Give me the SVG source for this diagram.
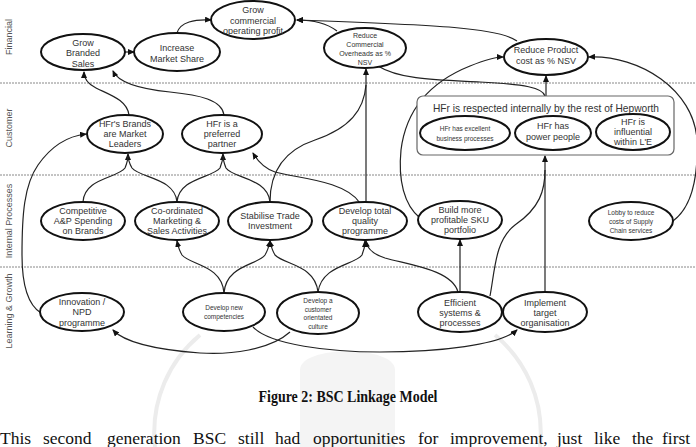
<svg xmlns="http://www.w3.org/2000/svg" width="696" height="447" viewBox="0 0 696 447">
<style>
.node ellipse{fill:#fff;stroke:#111;stroke-width:2}
.t{font-family:"Liberation Sans","DejaVu Sans",sans-serif;font-size:9px;fill:#333;text-anchor:middle}
.s{font-size:6.5px}
.lane{font-family:"Liberation Sans","DejaVu Sans",sans-serif;font-size:9px;fill:#555;text-anchor:middle}
.sep{stroke:#888;stroke-width:1;stroke-dasharray:2,1}
.c path{fill:none;stroke:#222;stroke-width:1.2}
.wm{fill:none;stroke:#ececec;stroke-width:4}
.p{font-family:"Liberation Serif","Times New Roman",serif;font-size:17.5px;fill:#111}
</style>
<defs>
<marker id="ah" markerUnits="userSpaceOnUse" markerWidth="7" markerHeight="6" refX="6" refY="3" orient="auto">
<path d="M0,0 L7,3 L0,6 z" fill="#111"/>
</marker>
</defs>
<rect width="696" height="447" fill="#fff"/>
<!-- watermark -->
<g id="watermark">
<path class="wm" d="M155,447 C150,400 170,360 200,335"/>
<path class="wm" d="M540,447 C545,400 525,360 495,335"/>
<path d="M300,447 L300,370 C300,345 395,345 395,370 L395,447 Z" fill="#f4f4f4"/>
</g>
<!-- lanes -->
<g id="lanes">
<line class="sep" x1="0" y1="83" x2="696" y2="83"/>
<line class="sep" x1="0" y1="175" x2="696" y2="175"/>
<line class="sep" x1="0" y1="267" x2="696" y2="267"/>
<text class="lane" transform="translate(12,37) rotate(-90)">Financial</text>
<text class="lane" transform="translate(12,128) rotate(-90)">Customer</text>
<text class="lane" transform="translate(12,221) rotate(-90)">Internal Processes</text>
<text class="lane" transform="translate(12,311) rotate(-90)">Learning &amp; Growth</text>
</g>
<!-- connectors -->
<g id="connectors" class="c">
<path d="M125,52 L134,52" marker-end="url(#ah)"/>
<path d="M177,33 C180,22 195,19 211,20" marker-end="url(#ah)"/>
<path d="M337,31 C325,22 310,20 297,20" marker-end="url(#ah)"/>
<path d="M517,41 C500,28 440,25 297,20" marker-end="url(#ah)"/>
<path d="M378,66 C400,80 440,80 480,82 C525,84 543,88 545,96"/>
<path d="M546,96 L546,76" marker-end="url(#ah)"/>
<path d="M366,202 L366,69" marker-end="url(#ah)"/>
<path d="M270,202 C270,170 285,150 315,140 C350,128 364,110 366,85"/>
<path d="M420,218 C404,205 398,180 401,150 C406,110 430,82 470,66 C485,60 495,57 503,57" marker-end="url(#ah)"/>
<path d="M673,221 C695,205 698,170 697,140 C694,90 640,55 589,57" marker-end="url(#ah)"/>
<path d="M545,292 L545,156" marker-end="url(#ah)"/>
<path d="M490,296 C495,270 495,240 515,225 C540,208 545,190 545,170"/>
<path d="M460,292 L460,240" marker-end="url(#ah)"/>
<path d="M458,292 C452,270 410,265 385,258 C372,254 367,248 366,241" marker-end="url(#ah)"/>
<path d="M318,292 C315,265 285,265 275,255 C272,250 271,246 270,241" marker-end="url(#ah)"/>
<path d="M318,292 C322,265 355,265 362,255 C364,250 365,246 365,241" marker-end="url(#ah)"/>
<path d="M224,293 C222,265 190,265 182,255 C179,250 178,246 177,241" marker-end="url(#ah)"/>
<path d="M224,293 C226,265 258,265 265,255 C268,250 269,246 270,241" marker-end="url(#ah)"/>
<path d="M177,202 C175,178 140,178 132,168 C129,163 128,158 128,154" marker-end="url(#ah)"/>
<path d="M177,202 C179,178 212,178 220,168 C222,163 223,158 223,154" marker-end="url(#ah)"/>
<path d="M83,202 C84,178 118,178 125,168 C127,163 128,160 128,156"/>
<path d="M270,202 C268,178 232,178 226,168 C224,163 223,160 223,156"/>
<path d="M360,203 C345,180 295,178 275,172 C263,168 257,160 253,153" marker-end="url(#ah)"/>
<path d="M129,115 C127,100 110,95 96,88 C88,84 84,78 84,72" marker-end="url(#ah)"/>
<path d="M224,115 C222,100 200,95 170,92 C140,89 118,82 113,71" marker-end="url(#ah)"/>
<path d="M41,313 C28,305 22,285 22,255 C22,215 24,185 38,165 C52,145 68,136 86,134" marker-end="url(#ah)"/>
<path d="M290,332 C270,350 230,355 200,353 C160,350 125,343 113,330" marker-end="url(#ah)"/>
<path d="M253,327 C270,345 330,352 380,352 C440,352 500,345 517,330" marker-end="url(#ah)"/>
</g>
<!-- Financial -->
<g id="gbs" class="node"><ellipse cx="83" cy="52" rx="42" ry="18"/>
<text class="t" x="83" y="46">Grow</text><text class="t" x="83" y="56">Branded</text><text class="t" x="83" y="67">Sales</text></g>
<g id="ims" class="node"><ellipse cx="177" cy="52" rx="43" ry="19"/>
<text class="t" x="177" y="51">Increase</text><text class="t" x="177" y="62">Market Share</text></g>
<g id="gcop" class="node"><ellipse cx="253" cy="20" rx="42" ry="19"/>
<text class="t" x="253" y="13">Grow</text><text class="t" x="253" y="24">commercial</text><text class="t" x="253" y="34">operating profit</text></g>
<g id="rco" class="node"><ellipse cx="365" cy="48" rx="41" ry="20"/>
<text class="t" style="font-size:7px" x="365" y="37.5">Reduce</text><text class="t" style="font-size:7px" x="365" y="46.5">Commercial</text><text class="t" style="font-size:7px" x="365" y="55.5">Overheads as %</text><text class="t" style="font-size:7px" x="365" y="64.5">NSV</text></g>
<g id="rpc" class="node"><ellipse cx="546" cy="57" rx="42" ry="18"/>
<text class="t" x="546" y="53">Reduce Product</text><text class="t" x="546" y="64">cost as % NSV</text></g>
<!-- Customer -->
<g id="hbml" class="node"><ellipse cx="125" cy="134" rx="38" ry="19"/>
<text class="t" x="125" y="127">HFr's Brands</text><text class="t" x="125" y="137">are Market</text><text class="t" x="125" y="147">Leaders</text></g>
<g id="hpp" class="node"><ellipse cx="222" cy="134" rx="40" ry="19"/>
<text class="t" x="222" y="127">HFr is a</text><text class="t" x="222" y="137">preferred</text><text class="t" x="222" y="147">partner</text></g>
<g id="hresp">
<rect x="417" y="96" width="257" height="59" rx="6" fill="#fff" stroke="#666" stroke-width="1.2"/>
<text class="t" style="font-size:10.5px" x="546" y="112" textLength="226" lengthAdjust="spacingAndGlyphs">HFr is respected internally by the rest of Hepworth</text>
</g>
<g id="hebp" class="node"><ellipse cx="465" cy="133" rx="45" ry="17"/>
<text class="t s" x="465" y="130.5">HFr has excellent</text><text class="t s" x="465" y="140.5">business processes</text></g>
<g id="hpow" class="node"><ellipse cx="553" cy="133" rx="38" ry="17"/>
<text class="t" x="553" y="129">HFr has</text><text class="t" x="553" y="140">power people</text></g>
<g id="hinf" class="node"><ellipse cx="633" cy="132" rx="37" ry="18"/>
<text class="t" x="633" y="125">HFr is</text><text class="t" x="633" y="135">influential</text><text class="t" x="633" y="145">within L'E</text></g>
<!-- Internal -->
<g id="cap" class="node"><ellipse cx="83" cy="221" rx="42" ry="19"/>
<text class="t" x="83" y="214">Competitive</text><text class="t" x="83" y="224">A&amp;P Spending</text><text class="t" x="83" y="234">on Brands</text></g>
<g id="cms" class="node"><ellipse cx="177" cy="221" rx="42" ry="19"/>
<text class="t" x="177" y="214">Co-ordinated</text><text class="t" x="177" y="224">Marketing &amp;</text><text class="t" x="177" y="234">Sales Activities</text></g>
<g id="sti" class="node"><ellipse cx="270" cy="221" rx="42" ry="19"/>
<text class="t" x="270" y="219">Stabilise Trade</text><text class="t" x="270" y="229">Investment</text></g>
<g id="dtq" class="node"><ellipse cx="365" cy="221" rx="42" ry="19"/>
<text class="t" x="365" y="214">Develop total</text><text class="t" x="365" y="224">quality</text><text class="t" x="365" y="234">programme</text></g>
<g id="bsku" class="node"><ellipse cx="460" cy="220" rx="42" ry="19"/>
<text class="t" x="460" y="213">Build more</text><text class="t" x="460" y="223">profitable SKU</text><text class="t" x="460" y="233">portfolio</text></g>
<g id="lobby" class="node"><ellipse cx="631" cy="221" rx="42" ry="19"/>
<text class="t s" x="631" y="215">Lobby to reduce</text><text class="t s" x="631" y="224">costs of Supply</text><text class="t s" x="631" y="233">Chain services</text></g>
<!-- Learning & Growth -->
<g id="npd" class="node"><ellipse cx="82" cy="312" rx="42" ry="19"/>
<text class="t" x="82" y="305">Innovation /</text><text class="t" x="82" y="315">NPD</text><text class="t" x="82" y="326">programme</text></g>
<g id="dnc" class="node"><ellipse cx="224" cy="312" rx="41" ry="19"/>
<text class="t s" x="224" y="310">Develop new</text><text class="t s" x="224" y="319">competencies</text></g>
<g id="dcoc" class="node"><ellipse cx="318" cy="313" rx="41" ry="21"/>
<text class="t s" x="318" y="303">Develop a</text><text class="t s" x="318" y="311.5">customer</text><text class="t s" x="318" y="320">orientated</text><text class="t s" x="318" y="329">culture</text></g>
<g id="esp" class="node"><ellipse cx="460" cy="312" rx="42" ry="20"/>
<text class="t" x="460" y="306">Efficient</text><text class="t" x="460" y="316">systems &amp;</text><text class="t" x="460" y="326">processes</text></g>
<g id="ito" class="node"><ellipse cx="545" cy="312" rx="42" ry="20"/>
<text class="t" x="545" y="306">Implement</text><text class="t" x="545" y="316">target</text><text class="t" x="545" y="326">organisation</text></g>
<!-- caption & paragraph -->
<text x="348" y="402" text-anchor="middle" font-family="Liberation Serif,serif" font-weight="bold" font-size="16" fill="#111" textLength="179" lengthAdjust="spacingAndGlyphs">Figure 2: BSC Linkage Model</text>
<text class="p" y="444"><tspan x="0">This</tspan><tspan x="43">second</tspan><tspan x="107">generation</tspan><tspan x="193">BSC</tspan><tspan x="238">still</tspan><tspan x="275">had</tspan><tspan x="313">opportunities</tspan><tspan x="418">for</tspan><tspan x="450">improvement,</tspan><tspan x="557">just</tspan><tspan x="594">like</tspan><tspan x="632">the</tspan><tspan x="662">first</tspan></text>
</svg>
